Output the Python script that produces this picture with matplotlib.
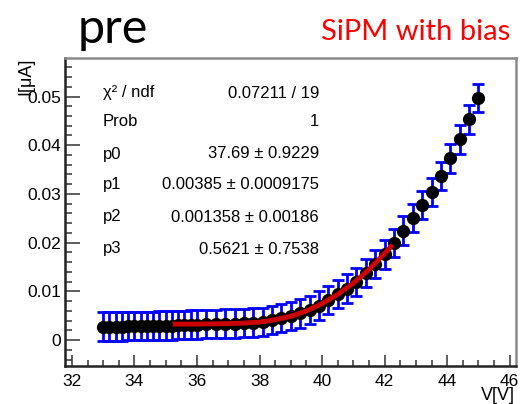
import matplotlib.pyplot as plt
from matplotlib.ticker import MultipleLocator, FuncFormatter

# measured points (V, I in uA)
voltaje = [33.0, 33.2, 33.4, 33.6, 33.8, 34.0, 34.2, 34.4, 34.6, 34.8, 35.0, 35.2,
           35.4, 35.6, 35.8, 36.0,
           36.3, 36.6, 36.9, 37.2, 37.5, 37.8, 38.1, 38.4, 38.7, 39.0,
           39.3, 39.6, 39.9, 40.2, 40.5, 40.8, 41.1, 41.4, 41.7, 42.0,
           42.3, 42.6, 42.9, 43.2, 43.5, 43.8, 44.1, 44.4, 44.7, 45.0]
corriente = [0.0028, 0.0028, 0.0028, 0.0028, 0.0029, 0.0029, 0.0029, 0.0029, 0.0029, 0.0030, 0.0030, 0.0030,
             0.0031, 0.0031, 0.0032, 0.0032,
             0.0033, 0.0033, 0.0034, 0.0034, 0.0035, 0.0036, 0.0038, 0.0041, 0.0045, 0.0049,
             0.0055, 0.0062, 0.0071, 0.0082, 0.0094, 0.0106, 0.0120, 0.0138, 0.0156, 0.0176,
             0.0200, 0.0225, 0.0251, 0.0277, 0.0304, 0.0337, 0.0373, 0.0412, 0.0453, 0.0497]
error = [0.0029] * len(voltaje)

# fit curve
ajuste_v = [35.3, 36.0, 37.0, 37.5, 38.0, 38.5, 39.0, 39.5, 40.0, 40.5, 41.0, 41.5, 42.0, 42.2]
ajuste_i = [0.0033, 0.0033, 0.0034, 0.0035, 0.0037, 0.0042, 0.0049, 0.0060, 0.0075, 0.0094,
            0.0117, 0.0145, 0.0178, 0.0192]

etiquetas = ['χ² / ndf', 'Prob', 'p0', 'p1', 'p2', 'p3']
valores = ['0.07211 / 19', '1', '37.69 ± 0.9229', '0.00385 ± 0.0009175',
           '0.001358 ± 0.00186', '0.5621 ± 0.7538']
filas_y = [93, 121, 154, 185, 217, 249]

W, H = 525, 404
fuente = 'Liberation Sans'


def fx(px):
    return px / W


def fy(py):
    return 1 - py / H


fig = plt.figure(figsize=(W / 100, H / 100), dpi=100)
ax = fig.add_axes([fx(65), fy(366), 451 / W, 308 / H])

ax.errorbar(voltaje, corriente, yerr=error, fmt='o', color='black', markersize=8.5,
            ecolor='#0000ff', elinewidth=2, capsize=4, capthick=2, zorder=2)
ax.plot(ajuste_v, ajuste_i, color='#cc0000', linewidth=3.5, zorder=3)

ax.set_xlim(31.78, 46.2)
ax.set_ylim(-0.0053, 0.0579)

ax.xaxis.set_major_locator(MultipleLocator(2))
ax.xaxis.set_minor_locator(MultipleLocator(0.5))
ax.yaxis.set_major_locator(MultipleLocator(0.01))
ax.yaxis.set_minor_locator(MultipleLocator(0.002))
ax.yaxis.set_major_formatter(FuncFormatter(lambda v, p: '0' if abs(v) < 1e-9 else f'{v:g}'))
ax.xaxis.set_major_formatter(FuncFormatter(lambda v, p: f'{v:g}'))

ax.tick_params(axis='x', which='major', direction='in', length=8, width=1.1, pad=6,
               labelsize=12.5, color='#333333')
ax.tick_params(axis='x', which='minor', direction='in', length=4.3, width=1.1, color='#333333')
ax.tick_params(axis='y', which='major', direction='in', length=10.5, width=1.1, pad=3,
               labelsize=12.5, color='#333333')
ax.tick_params(axis='y', which='minor', direction='in', length=5, width=1.1, color='#333333')
for lab in ax.get_xticklabels() + ax.get_yticklabels():
    lab.set_fontfamily(fuente)

for lado in ['left', 'bottom']:
    ax.spines[lado].set_color('#222222')
    ax.spines[lado].set_linewidth(1.8)
for lado in ['top', 'right']:
    ax.spines[lado].set_color('#8a8a8a')
    ax.spines[lado].set_linewidth(1.8)

# stats box
for et, val, yy in zip(etiquetas, valores, filas_y):
    fig.text(fx(103), fy(yy), et, family=fuente, fontsize=12, va='center', ha='left')
    fig.text(fx(319), fy(yy), val, family=fuente, fontsize=12, va='center', ha='right')

fig.text(fx(515), fy(396), 'V[V]', family=fuente, fontsize=13, va='center', ha='right')
fig.text(fx(26), fy(58), 'I[μA]', family=fuente, fontsize=13, va='top', ha='center',
         rotation=90)

fig.text(fx(78), fy(43), 'pre', family='Lato', fontsize=35, va='baseline', ha='left')
fig.text(fx(510), fy(40), 'SiPM with bias', family='Lato', fontsize=21, color='red',
         va='baseline', ha='right')

fig.savefig('out.png', dpi=100)
